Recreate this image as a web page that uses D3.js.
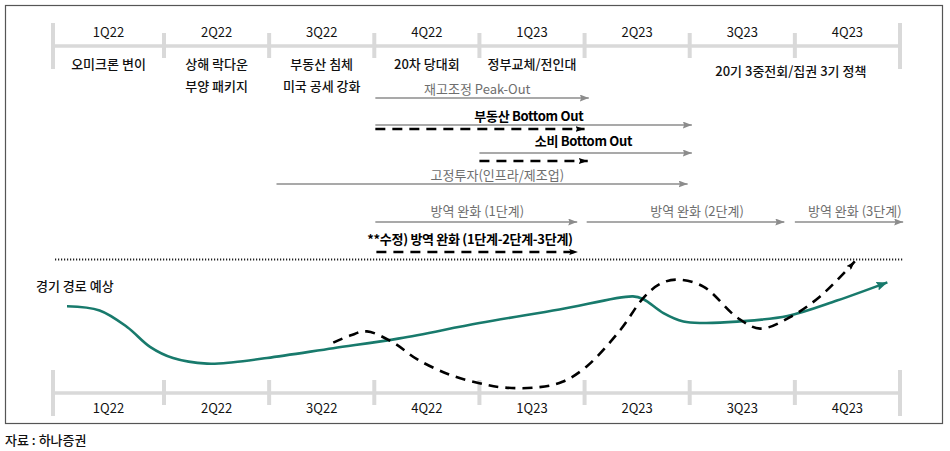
<!DOCTYPE html>
<html>
<head>
<meta charset="utf-8">
<script src="https://cdn.jsdelivr.net/npm/d3@7"></script>
<style>
  html, body { margin: 0; padding: 0; background: #fff; }
  svg { display: block; }
  text { font-family: "Noto Sans CJK KR", "Noto Sans", sans-serif; }
</style>
</head>
<body>
<svg id="chart" width="950" height="451"></svg>
<script>
// ---------------- DATA ----------------
const quarters = ['1Q22','2Q22','3Q22','4Q22','1Q23','2Q23','3Q23','4Q23'];

const eventSpans = [[0,1],[1,2],[2,3],[3,4],[4,5],[6,8]];
const eventLines = [
  ['오미크론 변이'],
  ['상해 락다운','부양 패키지'],
  ['부동산 침체','미국 공세 강화'],
  ['20차 당대회'],
  ['정부교체/전인대'],
  ['20기 3중전회/집권 3기 정책']
];

// solid (gray) phase arrows
const phaseLabels  = ['재고조정 Peak-Out','부동산 Bottom Out','소비 Bottom Out','고정투자(인프라/제조업)','방역 완화 (1단계)','방역 완화 (2단계)','방역 완화 (3단계)','**수정) 방역 완화 (1단계-2단계-3단계)'];
const phaseBold    = [false, true, true, false, false, false, false, true];
const phaseFrom    = [3.01, 3.01, 4.0, 2.07, 3.01, 5.02, 7.0, null];
const phaseTo      = [5.04, 6.02, 6.02, 5.98, 4.93, 6.9, 8.03, null];
const phaseLabelAt = [3.98, 4.47, 4.99, 4.17, 3.98, 6.07, 7.57, 3.91];
const phaseRow     = [0, 1, 2, 3, 4, 4, 4, 5];

// revised (dashed black) arrows
const revisedRow  = [1, 2, 5];
const revisedFrom = [3.01, 4.0, 3.02];
const revisedTo   = [5.0, 5.03, 4.94];

// economic path: baseline (green) and revised (dashed)
const baseQ = [0.126,0.42,0.67,0.874,1.086,1.41,1.66,1.98,2.61,3.24,4.0,4.76,5.46,5.56,5.75,5.94,6.13,6.45,6.93,7.40,7.88];
const baseV = [67,64,52,38,30,26,27,30,37,44,55,64.6,74,72,62,56,55,56,60,71,84];
const revQ  = [2.61,2.77,2.93,3.18,3.41,3.72,4.0,4.22,4.55,4.79,5.02,5.34,5.56,5.72,5.88,6.13,6.45,6.67,6.95,7.24,7.57];
const revV  = [41,46,49,41,29,18,12,9,9,13,24,50,73,83,86,81,59,51,59,74,99];

const sourceText = '자료 : 하나증권';
const pathTitle = '경기 경로 예상';

// ---------------- LAYOUT ----------------
const svg = d3.select('#chart');
const x = d3.scaleLinear().domain([0, 1, 8]).range([53, 164, 900]);
const y = d3.scaleLinear().domain([0, 100]).range([400, 260]);

const GRAY_AXIS = '#d9d9d9';
const GRAY_ARROW = '#8c8c8c';
const GREEN = '#187a6c';
const FS = 13;

const defs = svg.append('defs');
function marker(id, color, w, h) {
  defs.append('marker')
    .attr('id', id)
    .attr('viewBox', `0 0 ${w} ${h}`)
    .attr('refX', w).attr('refY', h / 2)
    .attr('markerWidth', w).attr('markerHeight', h)
    .attr('markerUnits', 'userSpaceOnUse')
    .attr('orient', 'auto')
    .append('path')
    .attr('d', `M0,0 L${w},${h/2} L0,${h} L${w*0.15},${h/2} Z`)
    .attr('fill', color);
}
marker('arrGray', GRAY_ARROW, 9, 7);
marker('arrBlack', '#000', 9, 6);
marker('arrGreen', GREEN, 11, 9);

// frame
svg.append('rect')
  .attr('x', 5.5).attr('y', 5.5).attr('width', 937).attr('height', 418)
  .attr('fill', 'none').attr('stroke', '#555').attr('stroke-width', 1.2);

// timeline helper
function timeline(yLine, labelY) {
  const g = svg.append('g');
  g.append('line')
    .attr('x1', x(0)).attr('x2', x(8))
    .attr('y1', yLine).attr('y2', yLine)
    .attr('stroke', GRAY_AXIS).attr('stroke-width', 3.5);
  const bounds = d3.range(0, 9);
  g.selectAll('line.tick').data(bounds).join('line')
    .attr('class', 'tick')
    .attr('x1', d => x(d)).attr('x2', d => x(d))
    .attr('y1', d => (d === 0 || d === 8) ? yLine - 23 : yLine - 13)
    .attr('y2', d => (d === 0 || d === 8) ? yLine + 23 : yLine + 12)
    .attr('stroke', GRAY_AXIS).attr('stroke-width', 4);
  g.selectAll('text.q').data(quarters).join('text')
    .attr('class', 'q')
    .attr('x', (d, i) => (x(i) + x(i + 1)) / 2)
    .attr('y', labelY)
    .attr('text-anchor', 'middle')
    .attr('dominant-baseline', 'central')
    .attr('font-size', FS)
    .attr('fill', '#111')
    .text(d => d);
}
timeline(46, 31);
timeline(393, 407);

// events under top timeline
eventSpans.forEach((sp, i) => {
  const cx = (x(sp[0]) + x(sp[1])) / 2;
  const wide = sp[1] - sp[0] > 1;
  eventLines[i].forEach((t, j) => {
    svg.append('text')
      .attr('x', cx + (wide ? -4 : 0))
      .attr('y', (wide ? 70 : 63) + j * 22)
      .attr('text-anchor', 'middle')
      .attr('dominant-baseline', 'central')
      .attr('font-size', FS)
      .attr('font-weight', 500)
      .attr('fill', '#111')
      .text(t);
  });
});

// phase rows layout
const rowLineY  = [98, 125, 153, 184, 222, 222];
const rowTextY  = [88, 115, 140, 174, 210, 238];
const revLineY  = {1: 129, 2: 161, 5: 252};

phaseLabels.forEach((lab, i) => {
  const r = phaseRow[i];
  if (phaseFrom[i] !== null) {
    svg.append('line')
      .attr('x1', x(phaseFrom[i])).attr('x2', x(phaseTo[i]))
      .attr('y1', rowLineY[r]).attr('y2', rowLineY[r])
      .attr('stroke', GRAY_ARROW).attr('stroke-width', 1.4)
      .attr('marker-end', 'url(#arrGray)');
  }
  svg.append('text')
    .attr('x', x(phaseLabelAt[i]))
    .attr('y', rowTextY[r])
    .attr('text-anchor', 'middle')
    .attr('dominant-baseline', 'central')
    .attr('font-size', FS)
    .attr('font-weight', phaseBold[i] ? 700 : 400)
    .attr('letter-spacing', phaseBold[i] ? -0.3 : 0)
    .attr('fill', phaseBold[i] ? '#000' : '#6e6e6e')
    .text(lab);
});

revisedRow.forEach((r, i) => {
  svg.append('line')
    .attr('x1', x(revisedFrom[i])).attr('x2', x(revisedTo[i]))
    .attr('y1', revLineY[r]).attr('y2', revLineY[r])
    .attr('stroke', '#000').attr('stroke-width', 2.4)
    .attr('stroke-dasharray', '10,7')
    .attr('marker-end', 'url(#arrBlack)');
});

// dotted separator
svg.append('line')
  .attr('x1', x(0) + 2).attr('x2', x(8.03))
  .attr('y1', 259.5).attr('y2', 259.5)
  .attr('stroke', '#222').attr('stroke-width', 2)
  .attr('stroke-dasharray', '1.2,1.8');

// path title
svg.append('text')
  .attr('x', 36).attr('y', 285)
  .attr('dominant-baseline', 'central')
  .attr('font-size', FS).attr('font-weight', 500)
  .attr('fill', '#111')
  .text(pathTitle);

// curves
const line = d3.line()
  .x(d => x(d[0])).y(d => y(d[1]))
  .curve(d3.curveCatmullRom.alpha(0.5));

svg.append('path')
  .datum(baseQ.map((q, i) => [q, baseV[i]]))
  .attr('d', line)
  .attr('fill', 'none')
  .attr('stroke', GREEN).attr('stroke-width', 2.6)
  .attr('marker-end', 'url(#arrGreen)');

svg.append('path')
  .datum(revQ.map((q, i) => [q, revV[i]]))
  .attr('d', line)
  .attr('fill', 'none')
  .attr('stroke', '#000').attr('stroke-width', 2.6)
  .attr('stroke-dasharray', '10,7')
  .attr('marker-end', 'url(#arrBlack)');

// source
svg.append('text')
  .attr('x', 5).attr('y', 439)
  .attr('dominant-baseline', 'central')
  .attr('font-size', FS).attr('font-weight', 500)
  .attr('fill', '#111')
  .text(sourceText);
</script>
</body>
</html>
